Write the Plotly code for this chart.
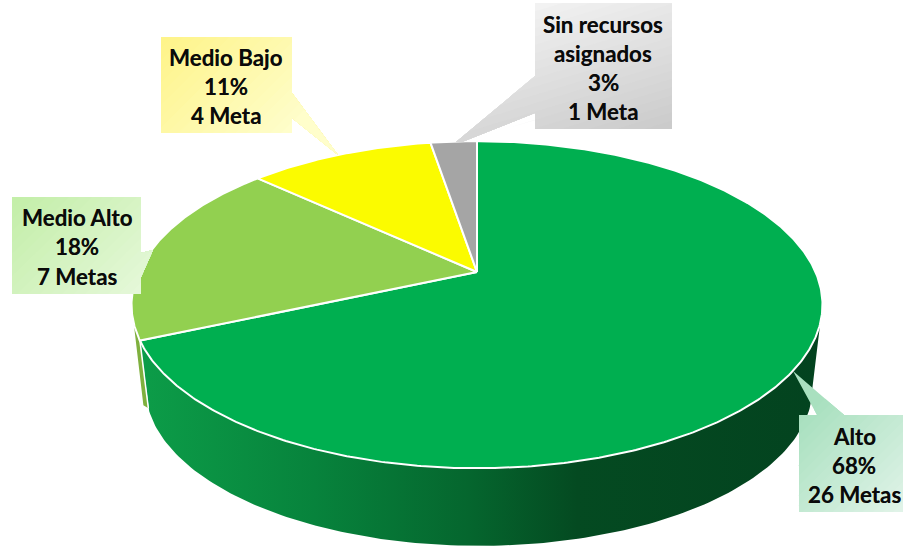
import numpy as np
import plotly.graph_objects as go

# --- data ---
categories = ["Alto", "Medio Alto", "Medio Bajo", "Sin recursos asignados"]
metas = [26, 7, 4, 1]
percent_labels = ["68%", "18%", "11%", "3%"]
meta_labels = ["26 Metas", "7 Metas", "4 Meta", "1 Meta"]
label_lines = [["Alto"], ["Medio Alto"], ["Medio Bajo"], ["Sin recursos", "asignados"]]
slice_colors = ["#00AF50", "#92D050", "#FBFB00", "#A5A5A5"]

# --- perspective disc drawn in pixel coordinates ---
W, H = 903, 546
CX, CY, A, B, K = 477, 272, 338.5, 157, 0.2
S, DEPTH, DX = 0.965, 84.5, 2
TANGENT_R = float(np.degrees(np.arccos(-K)))
TANGENT_L = 360 - TANGENT_R
BOTTOM_SHIFT = 5  # the lower rim's seam sits a little further round


def project(theta_deg, bottom=False):
    t = np.radians(np.asarray(theta_deg, dtype=float))
    w = 1 + K * np.cos(t)
    x, y = A * np.sin(t) / w, -B * np.cos(t) / w
    if bottom:
        return CX + DX + S * x, CY + DEPTH + S * y
    return CX + x, CY + y


def edges():
    shares = np.cumsum([0] + metas) / sum(metas) * 360
    return list(zip(shares[:-1], shares[1:]))


def wall(t0, t1, b0, b1):
    xt, yt = project(np.linspace(t0, t1, 150))
    xb, yb = project(np.linspace(b1, b0, 150), bottom=True)
    return list(xt) + list(xb) + [xt[0]], list(yt) + list(yb) + [yt[0]]


def clip(poly, d, limit):
    """Keep the part of a polygon with x*d[0]+y*d[1] >= limit."""
    out = []
    for (p, q) in zip(poly, poly[1:] + poly[:1]):
        pv, qv = p[0] * d[0] + p[1] * d[1], q[0] * d[0] + q[1] * d[1]
        if pv >= limit:
            out.append(p)
        if (pv >= limit) != (qv >= limit):
            f = (limit - pv) / (qv - pv)
            out.append((p[0] + f * (q[0] - p[0]), p[1] + f * (q[1] - p[1])))
    return out


def rgb(h):
    return np.array([int(h[i:i + 2], 16) for i in (1, 3, 5)], dtype=float)


fig = go.Figure()
(a0, a1), *_ = edges()
tx_, ty_ = project(a1)
bx_, by_ = project(a1 + BOTTOM_SHIFT, True)

# Medio Alto wall sliver (behind the Alto wall)
xt, yt = project(np.linspace(a1, TANGENT_L, 40))
sx = list(xt) + [float(bx_) - 5, float(bx_), float(xt[0])]
sy = list(yt) + [float(by_) - 3, float(by_), float(yt[0])]
fig.add_trace(go.Scatter(x=sx, y=sy, mode="lines", fill="toself", line=dict(width=0),
                         fillcolor="#7FB03E", hoverinfo="skip"))
# Alto wall
x, y = wall(TANGENT_R, a1, TANGENT_R, a1 + BOTTOM_SHIFT)
fig.add_trace(go.Scatter(
    x=x, y=y, mode="lines", fill="toself", line=dict(width=0), hoverinfo="skip",
    fillgradient=dict(type="horizontal", start=145, stop=821,
                      colorscale=[[0, "#0C9C48"], [0.25, "#07833C"], [0.48, "#05662E"],
                                  [0.64, "#044A21"], [1, "#03431F"]])))
# white seam at wall end
fig.add_trace(go.Scatter(x=[float(tx_), float(bx_)], y=[float(ty_), float(by_)], mode="lines",
                         line=dict(color="white", width=1.5), hoverinfo="skip"))

# Top face slices
for (t0, t1), c in zip(edges(), slice_colors):
    ts = np.linspace(t0, t1, max(int(t1 - t0) * 2, 8))
    ax, ay = project(ts)
    fig.add_trace(go.Scatter(x=[CX] + list(ax) + [CX], y=[CY] + list(ay) + [CY],
                             mode="lines", fill="toself", fillcolor=c,
                             line=dict(color="white", width=2), hoverinfo="skip"))

# Callouts (box + pointer) with diagonal shading built from overlapping bands
BANDS = 20
callouts = [
    dict(xy=[(799, 415), (817, 415), (793, 371), (844, 415), (906, 415), (906, 512), (799, 512)],
         box=(799, 415, 903, 512), d=(1, 1), c0="#A9E0BF", c1="#E0F3E8", tx=854, ty=[436, 465, 494]),
    dict(xy=[(12, 197), (141, 197), (141, 253), (153, 250), (141, 277), (141, 294), (12, 294)],
         box=(12, 197, 141, 294), d=(1, 1), c0="#C4EFA9", c1="#E5F8D9", tx=77, ty=[217, 246, 276]),
    dict(xy=[(161, 37), (292, 37), (292, 93), (338, 155), (292, 118), (292, 133), (161, 133)],
         box=(161, 37, 292, 133), d=(1, 1), c0="#FEF48A", c1="#FFFECB", tx=226, ty=[57, 86, 115]),
    dict(xy=[(535, 3), (672, 3), (672, 129), (535, 129), (535, 113), (462, 142), (456, 142), (535, 76)],
         box=(535, 3, 672, 129), d=(0.3, 1), c0="#F2F2F2", c1="#CBCBCB", tx=603, ty=[24, 53, 82, 111]),
]
for i, c in enumerate(callouts):
    bx0, by0, bx1, by1 = c["box"]
    lo = bx0 * c["d"][0] + by0 * c["d"][1]
    hi = bx1 * c["d"][0] + by1 * c["d"][1]
    for k in range(BANDS):
        f = k / (BANDS - 1)
        col = rgb(c["c0"]) * (1 - f) + rgb(c["c1"]) * f
        poly = c["xy"] if k == 0 else clip(c["xy"], c["d"], lo + (hi - lo) * k / BANDS)
        if not poly:
            continue
        px = [p[0] for p in poly] + [poly[0][0]]
        py = [p[1] for p in poly] + [poly[0][1]]
        fig.add_trace(go.Scatter(x=px, y=py, mode="lines", fill="toself", line=dict(width=0),
                                 fillcolor="rgb(%d,%d,%d)" % tuple(col), hoverinfo="skip"))
    lines = label_lines[i] + [percent_labels[i], meta_labels[i]]
    for txt, yy in zip(lines, c["ty"]):
        fig.add_annotation(x=c["tx"], y=yy, text=txt, showarrow=False,
                           font=dict(family="Lato", size=22.3, color="#0A0A0A", weight="bold",
                                     shadow="0 0 0.6px rgba(0,0,0,0.55)"),
                           xanchor="center", yanchor="middle")

fig.update_layout(
    width=W, height=H, margin=dict(l=0, r=0, t=0, b=0), showlegend=False,
    paper_bgcolor="white", plot_bgcolor="white",
    xaxis=dict(range=[0, W], visible=False, fixedrange=True),
    yaxis=dict(range=[H, 0], visible=False, fixedrange=True),
)
fig.write_html("out.html", config={"displayModeBar": False},
               post_script="document.body.style.margin='0';")
